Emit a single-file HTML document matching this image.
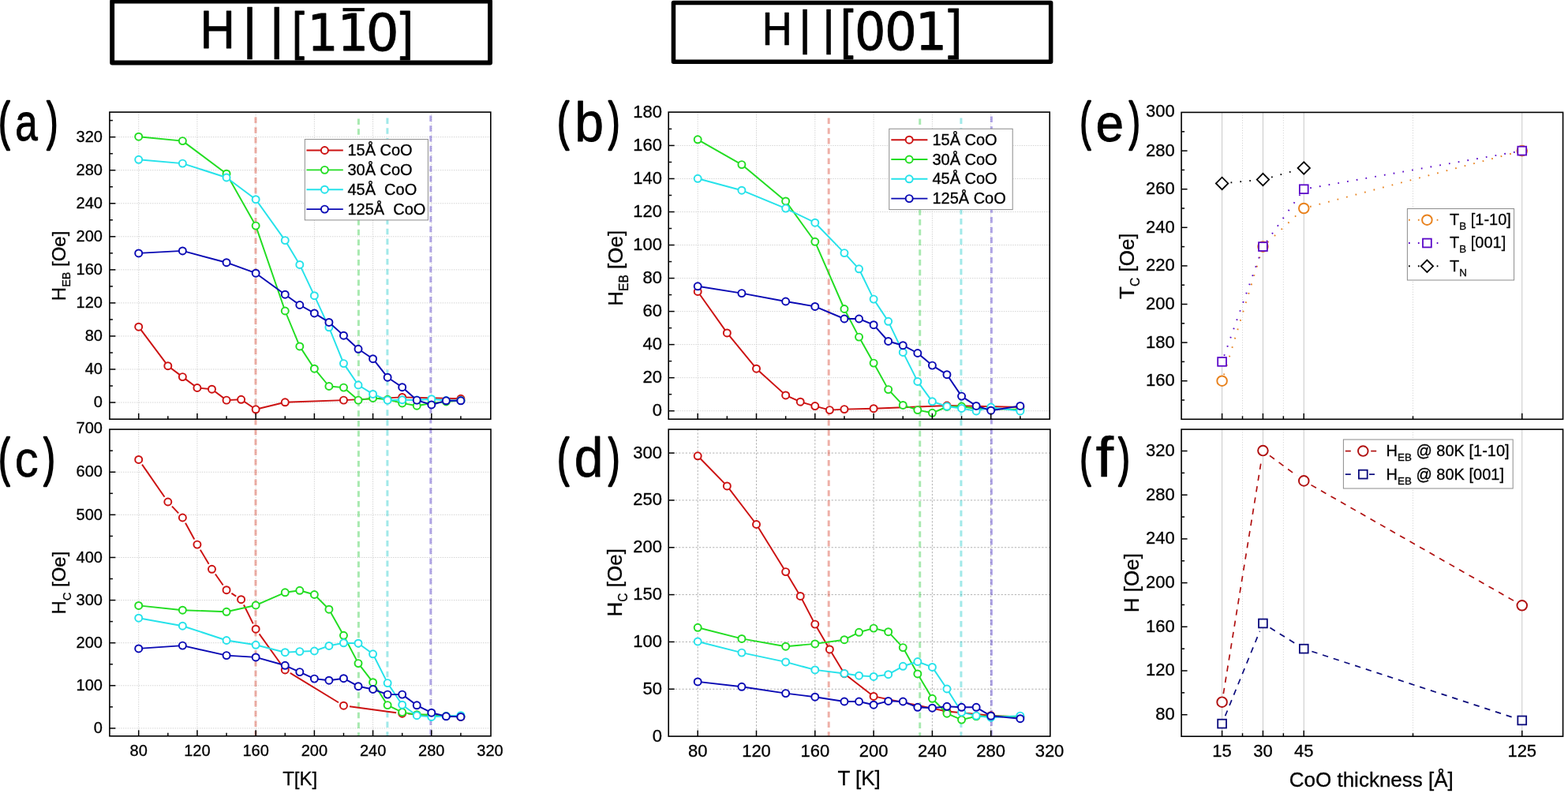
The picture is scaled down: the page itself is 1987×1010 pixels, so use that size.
<!DOCTYPE html>
<html lang="en">
<head>
<meta charset="utf-8">
<title>Exchange bias and coercivity vs temperature and CoO thickness</title>
<style>
html,body{margin:0;padding:0;background:#fff;}
body{width:1987px;height:1010px;overflow:hidden;}
svg{display:block;}
text{fill:#000;stroke:#000;stroke-width:0.3px;}
</style>
</head>
<body>
<svg width="1987" height="1010" viewBox="0 0 1987 1010" font-family="Liberation Sans, sans-serif">
<g>
<rect width="1987" height="1010" fill="#fff"/>
<rect x="142.15" y="1.45" width="478.9" height="78" fill="#fff" stroke="#000" stroke-width="5.9" stroke-linejoin="round"/>
<rect x="853.45" y="3.55" width="478.2" height="74.8" fill="#fff" stroke="#000" stroke-width="5.5" stroke-linejoin="round"/>
<g aria-label="H||[1 1-bar 0]"><text transform="translate(253.57 61.1) scale(0.8869 1)" font-size="69.19" style="stroke-width:0.8px" stroke-linejoin="round" font-family="Liberation Sans, sans-serif">H</text>
<text transform="translate(307.13 60.1) scale(1.0259 1)" font-size="69.8" style="stroke-width:0.6px" stroke-linejoin="round" font-family="Liberation Sans, sans-serif">|</text>
<text transform="translate(341.43 60.1) scale(1.0259 1)" font-size="69.8" style="stroke-width:0.6px" stroke-linejoin="round" font-family="Liberation Sans, sans-serif">|</text>
<text transform="translate(370.12 62.35) scale(0.8436 1)" font-size="67.31" style="stroke-width:0.9px" stroke-linejoin="round" font-family="Liberation Sans, sans-serif">[</text>
<text transform="translate(389.41 63.65) scale(0.9547 1)" font-size="64.2" style="stroke-width:0.9px" stroke-linejoin="round" font-family="DejaVu Sans, Liberation Sans, sans-serif">1</text>
<text transform="translate(428.01 63.65) scale(0.9547 1)" font-size="64.2" style="stroke-width:0.9px" stroke-linejoin="round" font-family="DejaVu Sans, Liberation Sans, sans-serif">1</text>
<text transform="translate(434.98 72.97) scale(0.5787 1)" font-size="82.61" style="stroke-width:0.4px" stroke-linejoin="round" font-family="Liberation Sans, sans-serif">¯</text>
<text transform="translate(463.82 63.55) scale(1.0258 1)" font-size="64.02" style="stroke-width:0.9px" stroke-linejoin="round" font-family="DejaVu Sans, Liberation Sans, sans-serif">0</text>
<text transform="translate(506.86 62.35) scale(0.9108 1)" font-size="67.31" style="stroke-width:0.9px" stroke-linejoin="round" font-family="Liberation Sans, sans-serif">]</text></g>
<g aria-label="H||[001]"><text transform="translate(965.84 57.25) scale(0.8934 1)" font-size="58.87" style="stroke-width:0.7px" stroke-linejoin="round" font-family="Liberation Sans, sans-serif">H</text>
<text transform="translate(1012.22 56.34) scale(1.0050 1)" font-size="60.19" style="stroke-width:0.6px" stroke-linejoin="round" font-family="Liberation Sans, sans-serif">|</text>
<text transform="translate(1042.22 56.34) scale(1.0050 1)" font-size="60.19" style="stroke-width:0.6px" stroke-linejoin="round" font-family="Liberation Sans, sans-serif">|</text>
<text transform="translate(1064.94 61.28) scale(0.8768 1)" font-size="67.63" style="stroke-width:0.9px" stroke-linejoin="round" font-family="Liberation Sans, sans-serif">[</text>
<text transform="translate(1083.06 63.42) scale(0.9323 1)" font-size="66.4" style="stroke-width:0.9px" stroke-linejoin="round" font-family="DejaVu Sans, Liberation Sans, sans-serif">0</text>
<text transform="translate(1120.91 63.42) scale(0.9681 1)" font-size="66.4" style="stroke-width:0.9px" stroke-linejoin="round" font-family="DejaVu Sans, Liberation Sans, sans-serif">0</text>
<text transform="translate(1160.03 63.05) scale(0.9514 1)" font-size="66.12" style="stroke-width:0.9px" stroke-linejoin="round" font-family="DejaVu Sans, Liberation Sans, sans-serif">1</text>
<text transform="translate(1201.13 61.28) scale(0.9585 1)" font-size="67.63" style="stroke-width:0.9px" stroke-linejoin="round" font-family="Liberation Sans, sans-serif">]</text></g>
<!--A-->
<!--C-->
<!--B-->
<!--D-->
<!--E-->
<!--F-->
</g>
<g>
<line x1="138.9" y1="510.04" x2="621.8" y2="510.04" stroke="#d2d2d2" stroke-width="1" stroke-dasharray="1.4 1.45"/>
<line x1="138.9" y1="467.99" x2="621.8" y2="467.99" stroke="#d2d2d2" stroke-width="1" stroke-dasharray="1.4 1.45"/>
<line x1="138.9" y1="425.94" x2="621.8" y2="425.94" stroke="#d2d2d2" stroke-width="1" stroke-dasharray="1.4 1.45"/>
<line x1="138.9" y1="383.9" x2="621.8" y2="383.9" stroke="#d2d2d2" stroke-width="1" stroke-dasharray="1.4 1.45"/>
<line x1="138.9" y1="341.85" x2="621.8" y2="341.85" stroke="#d2d2d2" stroke-width="1" stroke-dasharray="1.4 1.45"/>
<line x1="138.9" y1="299.8" x2="621.8" y2="299.8" stroke="#d2d2d2" stroke-width="1" stroke-dasharray="1.4 1.45"/>
<line x1="138.9" y1="257.75" x2="621.8" y2="257.75" stroke="#d2d2d2" stroke-width="1" stroke-dasharray="1.4 1.45"/>
<line x1="138.9" y1="215.7" x2="621.8" y2="215.7" stroke="#d2d2d2" stroke-width="1" stroke-dasharray="1.4 1.45"/>
<line x1="138.9" y1="173.66" x2="621.8" y2="173.66" stroke="#d2d2d2" stroke-width="1" stroke-dasharray="1.4 1.45"/>
<line x1="175.7" y1="142.1" x2="175.7" y2="531.2" stroke="#d2d2d2" stroke-width="1" stroke-dasharray="1.4 1.45"/>
<line x1="249.92" y1="142.1" x2="249.92" y2="531.2" stroke="#d2d2d2" stroke-width="1" stroke-dasharray="1.4 1.45"/>
<line x1="324.14" y1="142.1" x2="324.14" y2="531.2" stroke="#d2d2d2" stroke-width="1" stroke-dasharray="1.4 1.45"/>
<line x1="398.36" y1="142.1" x2="398.36" y2="531.2" stroke="#d2d2d2" stroke-width="1" stroke-dasharray="1.4 1.45"/>
<line x1="472.58" y1="142.1" x2="472.58" y2="531.2" stroke="#d2d2d2" stroke-width="1" stroke-dasharray="1.4 1.45"/>
<line x1="546.8" y1="142.1" x2="546.8" y2="531.2" stroke="#d2d2d2" stroke-width="1" stroke-dasharray="1.4 1.45"/>
<line x1="138.9" y1="922.9" x2="622" y2="922.9" stroke="#d2d2d2" stroke-width="1" stroke-dasharray="1.4 1.45"/>
<line x1="138.9" y1="868.79" x2="622" y2="868.79" stroke="#d2d2d2" stroke-width="1" stroke-dasharray="1.4 1.45"/>
<line x1="138.9" y1="814.68" x2="622" y2="814.68" stroke="#d2d2d2" stroke-width="1" stroke-dasharray="1.4 1.45"/>
<line x1="138.9" y1="760.57" x2="622" y2="760.57" stroke="#d2d2d2" stroke-width="1" stroke-dasharray="1.4 1.45"/>
<line x1="138.9" y1="706.46" x2="622" y2="706.46" stroke="#d2d2d2" stroke-width="1" stroke-dasharray="1.4 1.45"/>
<line x1="138.9" y1="652.35" x2="622" y2="652.35" stroke="#d2d2d2" stroke-width="1" stroke-dasharray="1.4 1.45"/>
<line x1="138.9" y1="598.24" x2="622" y2="598.24" stroke="#d2d2d2" stroke-width="1" stroke-dasharray="1.4 1.45"/>
<line x1="175.7" y1="544.1" x2="175.7" y2="932.8" stroke="#d2d2d2" stroke-width="1" stroke-dasharray="1.4 1.45"/>
<line x1="249.92" y1="544.1" x2="249.92" y2="932.8" stroke="#d2d2d2" stroke-width="1" stroke-dasharray="1.4 1.45"/>
<line x1="324.14" y1="544.1" x2="324.14" y2="932.8" stroke="#d2d2d2" stroke-width="1" stroke-dasharray="1.4 1.45"/>
<line x1="398.36" y1="544.1" x2="398.36" y2="932.8" stroke="#d2d2d2" stroke-width="1" stroke-dasharray="1.4 1.45"/>
<line x1="472.58" y1="544.1" x2="472.58" y2="932.8" stroke="#d2d2d2" stroke-width="1" stroke-dasharray="1.4 1.45"/>
<line x1="546.8" y1="544.1" x2="546.8" y2="932.8" stroke="#d2d2d2" stroke-width="1" stroke-dasharray="1.4 1.45"/>
<line x1="847.2" y1="520.7" x2="1330.2" y2="520.7" stroke="#d2d2d2" stroke-width="1" stroke-dasharray="1.4 1.45"/>
<line x1="847.2" y1="478.67" x2="1330.2" y2="478.67" stroke="#d2d2d2" stroke-width="1" stroke-dasharray="1.4 1.45"/>
<line x1="847.2" y1="436.63" x2="1330.2" y2="436.63" stroke="#d2d2d2" stroke-width="1" stroke-dasharray="1.4 1.45"/>
<line x1="847.2" y1="394.6" x2="1330.2" y2="394.6" stroke="#d2d2d2" stroke-width="1" stroke-dasharray="1.4 1.45"/>
<line x1="847.2" y1="352.56" x2="1330.2" y2="352.56" stroke="#d2d2d2" stroke-width="1" stroke-dasharray="1.4 1.45"/>
<line x1="847.2" y1="310.53" x2="1330.2" y2="310.53" stroke="#d2d2d2" stroke-width="1" stroke-dasharray="1.4 1.45"/>
<line x1="847.2" y1="268.5" x2="1330.2" y2="268.5" stroke="#d2d2d2" stroke-width="1" stroke-dasharray="1.4 1.45"/>
<line x1="847.2" y1="226.46" x2="1330.2" y2="226.46" stroke="#d2d2d2" stroke-width="1" stroke-dasharray="1.4 1.45"/>
<line x1="847.2" y1="184.43" x2="1330.2" y2="184.43" stroke="#d2d2d2" stroke-width="1" stroke-dasharray="1.4 1.45"/>
<line x1="884.2" y1="142.1" x2="884.2" y2="531.2" stroke="#d2d2d2" stroke-width="1" stroke-dasharray="1.4 1.45"/>
<line x1="958.5" y1="142.1" x2="958.5" y2="531.2" stroke="#d2d2d2" stroke-width="1" stroke-dasharray="1.4 1.45"/>
<line x1="1032.8" y1="142.1" x2="1032.8" y2="531.2" stroke="#d2d2d2" stroke-width="1" stroke-dasharray="1.4 1.45"/>
<line x1="1107.1" y1="142.1" x2="1107.1" y2="531.2" stroke="#d2d2d2" stroke-width="1" stroke-dasharray="1.4 1.45"/>
<line x1="1181.4" y1="142.1" x2="1181.4" y2="531.2" stroke="#d2d2d2" stroke-width="1" stroke-dasharray="1.4 1.45"/>
<line x1="1255.7" y1="142.1" x2="1255.7" y2="531.2" stroke="#d2d2d2" stroke-width="1" stroke-dasharray="1.4 1.45"/>
<line x1="847.2" y1="873.26" x2="1330.8" y2="873.26" stroke="#b0b0b0" stroke-width="1" stroke-dasharray="2.3 2.0"/>
<line x1="847.2" y1="813.43" x2="1330.8" y2="813.43" stroke="#b0b0b0" stroke-width="1" stroke-dasharray="2.3 2.0"/>
<line x1="847.2" y1="753.6" x2="1330.8" y2="753.6" stroke="#b0b0b0" stroke-width="1" stroke-dasharray="2.3 2.0"/>
<line x1="847.2" y1="693.76" x2="1330.8" y2="693.76" stroke="#b0b0b0" stroke-width="1" stroke-dasharray="2.3 2.0"/>
<line x1="847.2" y1="633.92" x2="1330.8" y2="633.92" stroke="#b0b0b0" stroke-width="1" stroke-dasharray="2.3 2.0"/>
<line x1="847.2" y1="574.09" x2="1330.8" y2="574.09" stroke="#b0b0b0" stroke-width="1" stroke-dasharray="2.3 2.0"/>
<line x1="884.2" y1="544.1" x2="884.2" y2="933.1" stroke="#b0b0b0" stroke-width="1" stroke-dasharray="2.3 2.0"/>
<line x1="958.5" y1="544.1" x2="958.5" y2="933.1" stroke="#b0b0b0" stroke-width="1" stroke-dasharray="2.3 2.0"/>
<line x1="1032.8" y1="544.1" x2="1032.8" y2="933.1" stroke="#b0b0b0" stroke-width="1" stroke-dasharray="2.3 2.0"/>
<line x1="1107.1" y1="544.1" x2="1107.1" y2="933.1" stroke="#b0b0b0" stroke-width="1" stroke-dasharray="2.3 2.0"/>
<line x1="1181.4" y1="544.1" x2="1181.4" y2="933.1" stroke="#b0b0b0" stroke-width="1" stroke-dasharray="2.3 2.0"/>
<line x1="1255.7" y1="544.1" x2="1255.7" y2="933.1" stroke="#b0b0b0" stroke-width="1" stroke-dasharray="2.3 2.0"/>
<line x1="1548.6" y1="142.4" x2="1548.6" y2="531.3" stroke="#c8c8c8" stroke-width="1" />
<line x1="1600.44" y1="142.4" x2="1600.44" y2="531.3" stroke="#c8c8c8" stroke-width="1" />
<line x1="1652.28" y1="142.4" x2="1652.28" y2="531.3" stroke="#c8c8c8" stroke-width="1" />
<line x1="1928.76" y1="142.4" x2="1928.76" y2="531.3" stroke="#c8c8c8" stroke-width="1" />
<line x1="1574.52" y1="142.4" x2="1574.52" y2="531.3" stroke="#d4d4d4" stroke-width="1" stroke-dasharray="1.2 2"/>
<line x1="1626.36" y1="142.4" x2="1626.36" y2="531.3" stroke="#d4d4d4" stroke-width="1" stroke-dasharray="1.2 2"/>
<line x1="1790.52" y1="142.4" x2="1790.52" y2="531.3" stroke="#d4d4d4" stroke-width="1" stroke-dasharray="1.2 2"/>
<line x1="1548.6" y1="544.1" x2="1548.6" y2="933.2" stroke="#c8c8c8" stroke-width="1" />
<line x1="1600.44" y1="544.1" x2="1600.44" y2="933.2" stroke="#c8c8c8" stroke-width="1" />
<line x1="1652.28" y1="544.1" x2="1652.28" y2="933.2" stroke="#c8c8c8" stroke-width="1" />
<line x1="1928.76" y1="544.1" x2="1928.76" y2="933.2" stroke="#c8c8c8" stroke-width="1" />
<line x1="1574.52" y1="544.1" x2="1574.52" y2="933.2" stroke="#d4d4d4" stroke-width="1" stroke-dasharray="1.2 2"/>
<line x1="1626.36" y1="544.1" x2="1626.36" y2="933.2" stroke="#d4d4d4" stroke-width="1" stroke-dasharray="1.2 2"/>
<line x1="1790.52" y1="544.1" x2="1790.52" y2="933.2" stroke="#d4d4d4" stroke-width="1" stroke-dasharray="1.2 2"/>
</g>
<g>
<line x1="323.94" y1="148.5" x2="323.94" y2="932.5" stroke="#d9442f" stroke-width="3.0" stroke-dasharray="7.4 5.35" stroke-linecap="butt" opacity="0.42"/>
<line x1="454.4" y1="150.5" x2="454.4" y2="932.5" stroke="#33cc44" stroke-width="3.0" stroke-dasharray="7.4 5.35" stroke-linecap="butt" opacity="0.42"/>
<line x1="490.9" y1="149.5" x2="490.9" y2="932.5" stroke="#22cccc" stroke-width="3.0" stroke-dasharray="7.4 5.35" stroke-linecap="butt" opacity="0.42"/>
<line x1="545.8" y1="146.5" x2="545.8" y2="932.5" stroke="#4a30c8" stroke-width="3.0" stroke-dasharray="7.4 5.35" stroke-linecap="butt" opacity="0.42"/>
<line x1="1050.2" y1="149.5" x2="1050.2" y2="932.5" stroke="#d9442f" stroke-width="3.0" stroke-dasharray="7.4 5.35" stroke-linecap="butt" opacity="0.42"/>
<line x1="1165.7" y1="150.5" x2="1165.7" y2="932.5" stroke="#33cc44" stroke-width="3.0" stroke-dasharray="7.4 5.35" stroke-linecap="butt" opacity="0.42"/>
<line x1="1217.9" y1="149.5" x2="1217.9" y2="932.5" stroke="#22cccc" stroke-width="3.0" stroke-dasharray="7.4 5.35" stroke-linecap="butt" opacity="0.42"/>
<line x1="1256.4" y1="147.5" x2="1256.4" y2="932.5" stroke="#4a30c8" stroke-width="3.0" stroke-dasharray="7.4 5.35" stroke-linecap="butt" opacity="0.42"/>
</g>
<g>
<!--DATA A-->
<polyline points="175.7,414.2 212.81,463.7 231.36,477.6 249.92,491.5 268.47,493.2 287.03,507.1 305.58,506.3 324.14,518.8 361.25,509.8 435.47,507.1 509.69,503.4 583.91,505.3" fill="none" stroke="#cc1212" stroke-width="1.95" stroke-linejoin="round"/>
<circle cx="175.7" cy="414.2" r="4.5" fill="#fff" stroke="#cc1212" stroke-width="1.95"/>
<circle cx="212.81" cy="463.7" r="4.5" fill="#fff" stroke="#cc1212" stroke-width="1.95"/>
<circle cx="231.36" cy="477.6" r="4.5" fill="#fff" stroke="#cc1212" stroke-width="1.95"/>
<circle cx="249.92" cy="491.5" r="4.5" fill="#fff" stroke="#cc1212" stroke-width="1.95"/>
<circle cx="268.47" cy="493.2" r="4.5" fill="#fff" stroke="#cc1212" stroke-width="1.95"/>
<circle cx="287.03" cy="507.1" r="4.5" fill="#fff" stroke="#cc1212" stroke-width="1.95"/>
<circle cx="305.58" cy="506.3" r="4.5" fill="#fff" stroke="#cc1212" stroke-width="1.95"/>
<circle cx="324.14" cy="518.8" r="4.5" fill="#fff" stroke="#cc1212" stroke-width="1.95"/>
<circle cx="361.25" cy="509.8" r="4.5" fill="#fff" stroke="#cc1212" stroke-width="1.95"/>
<circle cx="435.47" cy="507.1" r="4.5" fill="#fff" stroke="#cc1212" stroke-width="1.95"/>
<circle cx="509.69" cy="503.4" r="4.5" fill="#fff" stroke="#cc1212" stroke-width="1.95"/>
<circle cx="583.91" cy="505.3" r="4.5" fill="#fff" stroke="#cc1212" stroke-width="1.95"/>
<polyline points="175.7,173.2 231.36,178.6 287.03,220.2 324.14,286.1 361.25,394 379.8,438.9 398.36,467.2 416.91,489.5 435.47,491.1 454.02,507.1 472.58,504.5 491.13,506.3 509.69,510.9 528.24,514.2 546.8,511 565.36,509 583.91,507.5" fill="none" stroke="#22dd22" stroke-width="1.95" stroke-linejoin="round"/>
<circle cx="175.7" cy="173.2" r="4.5" fill="#fff" stroke="#22dd22" stroke-width="1.95"/>
<circle cx="231.36" cy="178.6" r="4.5" fill="#fff" stroke="#22dd22" stroke-width="1.95"/>
<circle cx="287.03" cy="220.2" r="4.5" fill="#fff" stroke="#22dd22" stroke-width="1.95"/>
<circle cx="324.14" cy="286.1" r="4.5" fill="#fff" stroke="#22dd22" stroke-width="1.95"/>
<circle cx="361.25" cy="394" r="4.5" fill="#fff" stroke="#22dd22" stroke-width="1.95"/>
<circle cx="379.8" cy="438.9" r="4.5" fill="#fff" stroke="#22dd22" stroke-width="1.95"/>
<circle cx="398.36" cy="467.2" r="4.5" fill="#fff" stroke="#22dd22" stroke-width="1.95"/>
<circle cx="416.91" cy="489.5" r="4.5" fill="#fff" stroke="#22dd22" stroke-width="1.95"/>
<circle cx="435.47" cy="491.1" r="4.5" fill="#fff" stroke="#22dd22" stroke-width="1.95"/>
<circle cx="454.02" cy="507.1" r="4.5" fill="#fff" stroke="#22dd22" stroke-width="1.95"/>
<circle cx="472.58" cy="504.5" r="4.5" fill="#fff" stroke="#22dd22" stroke-width="1.95"/>
<circle cx="491.13" cy="506.3" r="4.5" fill="#fff" stroke="#22dd22" stroke-width="1.95"/>
<circle cx="509.69" cy="510.9" r="4.5" fill="#fff" stroke="#22dd22" stroke-width="1.95"/>
<circle cx="528.24" cy="514.2" r="4.5" fill="#fff" stroke="#22dd22" stroke-width="1.95"/>
<circle cx="546.8" cy="511" r="4.5" fill="#fff" stroke="#22dd22" stroke-width="1.95"/>
<circle cx="565.36" cy="509" r="4.5" fill="#fff" stroke="#22dd22" stroke-width="1.95"/>
<circle cx="583.91" cy="507.5" r="4.5" fill="#fff" stroke="#22dd22" stroke-width="1.95"/>
<polyline points="175.7,202.3 231.36,207.1 287.03,225 324.14,252.7 361.25,304.6 379.8,335.4 398.36,374.7 416.91,414.8 435.47,460.6 454.02,488 472.58,499.4 491.13,507.1 509.69,506.7 528.24,507 546.8,505.7 565.36,507.5 583.91,507.5" fill="none" stroke="#26e2ea" stroke-width="1.95" stroke-linejoin="round"/>
<circle cx="175.7" cy="202.3" r="4.5" fill="#fff" stroke="#26e2ea" stroke-width="1.95"/>
<circle cx="231.36" cy="207.1" r="4.5" fill="#fff" stroke="#26e2ea" stroke-width="1.95"/>
<circle cx="287.03" cy="225" r="4.5" fill="#fff" stroke="#26e2ea" stroke-width="1.95"/>
<circle cx="324.14" cy="252.7" r="4.5" fill="#fff" stroke="#26e2ea" stroke-width="1.95"/>
<circle cx="361.25" cy="304.6" r="4.5" fill="#fff" stroke="#26e2ea" stroke-width="1.95"/>
<circle cx="379.8" cy="335.4" r="4.5" fill="#fff" stroke="#26e2ea" stroke-width="1.95"/>
<circle cx="398.36" cy="374.7" r="4.5" fill="#fff" stroke="#26e2ea" stroke-width="1.95"/>
<circle cx="416.91" cy="414.8" r="4.5" fill="#fff" stroke="#26e2ea" stroke-width="1.95"/>
<circle cx="435.47" cy="460.6" r="4.5" fill="#fff" stroke="#26e2ea" stroke-width="1.95"/>
<circle cx="454.02" cy="488" r="4.5" fill="#fff" stroke="#26e2ea" stroke-width="1.95"/>
<circle cx="472.58" cy="499.4" r="4.5" fill="#fff" stroke="#26e2ea" stroke-width="1.95"/>
<circle cx="491.13" cy="507.1" r="4.5" fill="#fff" stroke="#26e2ea" stroke-width="1.95"/>
<circle cx="509.69" cy="506.7" r="4.5" fill="#fff" stroke="#26e2ea" stroke-width="1.95"/>
<circle cx="528.24" cy="507" r="4.5" fill="#fff" stroke="#26e2ea" stroke-width="1.95"/>
<circle cx="546.8" cy="505.7" r="4.5" fill="#fff" stroke="#26e2ea" stroke-width="1.95"/>
<circle cx="565.36" cy="507.5" r="4.5" fill="#fff" stroke="#26e2ea" stroke-width="1.95"/>
<circle cx="583.91" cy="507.5" r="4.5" fill="#fff" stroke="#26e2ea" stroke-width="1.95"/>
<polyline points="175.7,320.9 231.36,317.9 287.03,332.7 324.14,346.2 361.25,373.2 379.8,386.5 398.36,396.9 416.91,408.4 435.47,425.2 454.02,442.3 472.58,454.7 491.13,478.2 509.69,490.7 528.24,507.1 546.8,513 565.36,507.8 583.91,507.8" fill="none" stroke="#0a0ab4" stroke-width="1.95" stroke-linejoin="round"/>
<circle cx="175.7" cy="320.9" r="4.5" fill="#fff" stroke="#0a0ab4" stroke-width="1.95"/>
<circle cx="231.36" cy="317.9" r="4.5" fill="#fff" stroke="#0a0ab4" stroke-width="1.95"/>
<circle cx="287.03" cy="332.7" r="4.5" fill="#fff" stroke="#0a0ab4" stroke-width="1.95"/>
<circle cx="324.14" cy="346.2" r="4.5" fill="#fff" stroke="#0a0ab4" stroke-width="1.95"/>
<circle cx="361.25" cy="373.2" r="4.5" fill="#fff" stroke="#0a0ab4" stroke-width="1.95"/>
<circle cx="379.8" cy="386.5" r="4.5" fill="#fff" stroke="#0a0ab4" stroke-width="1.95"/>
<circle cx="398.36" cy="396.9" r="4.5" fill="#fff" stroke="#0a0ab4" stroke-width="1.95"/>
<circle cx="416.91" cy="408.4" r="4.5" fill="#fff" stroke="#0a0ab4" stroke-width="1.95"/>
<circle cx="435.47" cy="425.2" r="4.5" fill="#fff" stroke="#0a0ab4" stroke-width="1.95"/>
<circle cx="454.02" cy="442.3" r="4.5" fill="#fff" stroke="#0a0ab4" stroke-width="1.95"/>
<circle cx="472.58" cy="454.7" r="4.5" fill="#fff" stroke="#0a0ab4" stroke-width="1.95"/>
<circle cx="491.13" cy="478.2" r="4.5" fill="#fff" stroke="#0a0ab4" stroke-width="1.95"/>
<circle cx="509.69" cy="490.7" r="4.5" fill="#fff" stroke="#0a0ab4" stroke-width="1.95"/>
<circle cx="528.24" cy="507.1" r="4.5" fill="#fff" stroke="#0a0ab4" stroke-width="1.95"/>
<circle cx="546.8" cy="513" r="4.5" fill="#fff" stroke="#0a0ab4" stroke-width="1.95"/>
<circle cx="565.36" cy="507.8" r="4.5" fill="#fff" stroke="#0a0ab4" stroke-width="1.95"/>
<circle cx="583.91" cy="507.8" r="4.5" fill="#fff" stroke="#0a0ab4" stroke-width="1.95"/>
<!--DATA C-->
<line x1="180.03" y1="588.65" x2="208.48" y2="629.75" stroke="#cc1212" stroke-width="1.95" />
<line x1="217.98" y1="641.57" x2="226.2" y2="650.43" stroke="#cc1212" stroke-width="1.95" />
<line x1="235" y1="662.68" x2="246.29" y2="683.42" stroke="#cc1212" stroke-width="1.95" />
<line x1="253.8" y1="696.63" x2="264.59" y2="714.77" stroke="#cc1212" stroke-width="1.95" />
<line x1="272.85" y1="727.52" x2="282.66" y2="741.48" stroke="#cc1212" stroke-width="1.95" />
<line x1="293.41" y1="751.83" x2="299.2" y2="755.57" stroke="#cc1212" stroke-width="1.95" />
<line x1="308.96" y1="766.51" x2="320.77" y2="790.39" stroke="#cc1212" stroke-width="1.95" />
<line x1="328.57" y1="803.37" x2="356.82" y2="842.73" stroke="#cc1212" stroke-width="1.95" />
<line x1="367.74" y1="852.86" x2="428.98" y2="890.24" stroke="#cc1212" stroke-width="1.95" />
<line x1="443" y1="895.21" x2="502.16" y2="903.19" stroke="#cc1212" stroke-width="1.95" />
<line x1="517.28" y1="904.63" x2="576.32" y2="907.97" stroke="#cc1212" stroke-width="1.95" />
<circle cx="175.7" cy="582.4" r="4.5" fill="#fff" stroke="#cc1212" stroke-width="1.95"/>
<circle cx="212.81" cy="636" r="4.5" fill="#fff" stroke="#cc1212" stroke-width="1.95"/>
<circle cx="231.36" cy="656" r="4.5" fill="#fff" stroke="#cc1212" stroke-width="1.95"/>
<circle cx="249.92" cy="690.1" r="4.5" fill="#fff" stroke="#cc1212" stroke-width="1.95"/>
<circle cx="268.47" cy="721.3" r="4.5" fill="#fff" stroke="#cc1212" stroke-width="1.95"/>
<circle cx="287.03" cy="747.7" r="4.5" fill="#fff" stroke="#cc1212" stroke-width="1.95"/>
<circle cx="305.58" cy="759.7" r="4.5" fill="#fff" stroke="#cc1212" stroke-width="1.95"/>
<circle cx="324.14" cy="797.2" r="4.5" fill="#fff" stroke="#cc1212" stroke-width="1.95"/>
<circle cx="361.25" cy="848.9" r="4.5" fill="#fff" stroke="#cc1212" stroke-width="1.95"/>
<circle cx="435.47" cy="894.2" r="4.5" fill="#fff" stroke="#cc1212" stroke-width="1.95"/>
<circle cx="509.69" cy="904.2" r="4.5" fill="#fff" stroke="#cc1212" stroke-width="1.95"/>
<circle cx="583.91" cy="908.4" r="4.5" fill="#fff" stroke="#cc1212" stroke-width="1.95"/>
<polyline points="175.7,767.4 231.36,773.2 287.03,775.3 324.14,767 361.25,750.8 379.8,748.3 398.36,753.5 416.91,772.2 435.47,805.3 454.02,840.6 472.58,864.7 491.13,893.6 509.69,902.6 528.24,905.7 546.8,905.5 565.36,907.5 583.91,908" fill="none" stroke="#22dd22" stroke-width="1.95" stroke-linejoin="round"/>
<circle cx="175.7" cy="767.4" r="4.5" fill="#fff" stroke="#22dd22" stroke-width="1.95"/>
<circle cx="231.36" cy="773.2" r="4.5" fill="#fff" stroke="#22dd22" stroke-width="1.95"/>
<circle cx="287.03" cy="775.3" r="4.5" fill="#fff" stroke="#22dd22" stroke-width="1.95"/>
<circle cx="324.14" cy="767" r="4.5" fill="#fff" stroke="#22dd22" stroke-width="1.95"/>
<circle cx="361.25" cy="750.8" r="4.5" fill="#fff" stroke="#22dd22" stroke-width="1.95"/>
<circle cx="379.8" cy="748.3" r="4.5" fill="#fff" stroke="#22dd22" stroke-width="1.95"/>
<circle cx="398.36" cy="753.5" r="4.5" fill="#fff" stroke="#22dd22" stroke-width="1.95"/>
<circle cx="416.91" cy="772.2" r="4.5" fill="#fff" stroke="#22dd22" stroke-width="1.95"/>
<circle cx="435.47" cy="805.3" r="4.5" fill="#fff" stroke="#22dd22" stroke-width="1.95"/>
<circle cx="454.02" cy="840.6" r="4.5" fill="#fff" stroke="#22dd22" stroke-width="1.95"/>
<circle cx="472.58" cy="864.7" r="4.5" fill="#fff" stroke="#22dd22" stroke-width="1.95"/>
<circle cx="491.13" cy="893.6" r="4.5" fill="#fff" stroke="#22dd22" stroke-width="1.95"/>
<circle cx="509.69" cy="902.6" r="4.5" fill="#fff" stroke="#22dd22" stroke-width="1.95"/>
<circle cx="528.24" cy="905.7" r="4.5" fill="#fff" stroke="#22dd22" stroke-width="1.95"/>
<circle cx="546.8" cy="905.5" r="4.5" fill="#fff" stroke="#22dd22" stroke-width="1.95"/>
<circle cx="565.36" cy="907.5" r="4.5" fill="#fff" stroke="#22dd22" stroke-width="1.95"/>
<circle cx="583.91" cy="908" r="4.5" fill="#fff" stroke="#22dd22" stroke-width="1.95"/>
<polyline points="175.7,783.2 231.36,793.2 287.03,811.5 324.14,817.3 361.25,826.7 379.8,825.6 398.36,825 416.91,818.4 435.47,814.8 454.02,815.2 472.58,828.8 491.13,865.6 509.69,893.2 528.24,906.7 546.8,908.4 565.36,907.5 583.91,906.7" fill="none" stroke="#26e2ea" stroke-width="1.95" stroke-linejoin="round"/>
<circle cx="175.7" cy="783.2" r="4.5" fill="#fff" stroke="#26e2ea" stroke-width="1.95"/>
<circle cx="231.36" cy="793.2" r="4.5" fill="#fff" stroke="#26e2ea" stroke-width="1.95"/>
<circle cx="287.03" cy="811.5" r="4.5" fill="#fff" stroke="#26e2ea" stroke-width="1.95"/>
<circle cx="324.14" cy="817.3" r="4.5" fill="#fff" stroke="#26e2ea" stroke-width="1.95"/>
<circle cx="361.25" cy="826.7" r="4.5" fill="#fff" stroke="#26e2ea" stroke-width="1.95"/>
<circle cx="379.8" cy="825.6" r="4.5" fill="#fff" stroke="#26e2ea" stroke-width="1.95"/>
<circle cx="398.36" cy="825" r="4.5" fill="#fff" stroke="#26e2ea" stroke-width="1.95"/>
<circle cx="416.91" cy="818.4" r="4.5" fill="#fff" stroke="#26e2ea" stroke-width="1.95"/>
<circle cx="435.47" cy="814.8" r="4.5" fill="#fff" stroke="#26e2ea" stroke-width="1.95"/>
<circle cx="454.02" cy="815.2" r="4.5" fill="#fff" stroke="#26e2ea" stroke-width="1.95"/>
<circle cx="472.58" cy="828.8" r="4.5" fill="#fff" stroke="#26e2ea" stroke-width="1.95"/>
<circle cx="491.13" cy="865.6" r="4.5" fill="#fff" stroke="#26e2ea" stroke-width="1.95"/>
<circle cx="509.69" cy="893.2" r="4.5" fill="#fff" stroke="#26e2ea" stroke-width="1.95"/>
<circle cx="528.24" cy="906.7" r="4.5" fill="#fff" stroke="#26e2ea" stroke-width="1.95"/>
<circle cx="546.8" cy="908.4" r="4.5" fill="#fff" stroke="#26e2ea" stroke-width="1.95"/>
<circle cx="565.36" cy="907.5" r="4.5" fill="#fff" stroke="#26e2ea" stroke-width="1.95"/>
<circle cx="583.91" cy="906.7" r="4.5" fill="#fff" stroke="#26e2ea" stroke-width="1.95"/>
<polyline points="175.7,821.9 231.36,818.1 287.03,830.6 324.14,832.9 361.25,843.3 379.8,851.6 398.36,860.1 416.91,862.2 435.47,859.7 454.02,869.7 472.58,873.5 491.13,880.1 509.69,880.1 528.24,893.8 546.8,903.2 565.36,907.8 583.91,908.4" fill="none" stroke="#0a0ab4" stroke-width="1.95" stroke-linejoin="round"/>
<circle cx="175.7" cy="821.9" r="4.5" fill="#fff" stroke="#0a0ab4" stroke-width="1.95"/>
<circle cx="231.36" cy="818.1" r="4.5" fill="#fff" stroke="#0a0ab4" stroke-width="1.95"/>
<circle cx="287.03" cy="830.6" r="4.5" fill="#fff" stroke="#0a0ab4" stroke-width="1.95"/>
<circle cx="324.14" cy="832.9" r="4.5" fill="#fff" stroke="#0a0ab4" stroke-width="1.95"/>
<circle cx="361.25" cy="843.3" r="4.5" fill="#fff" stroke="#0a0ab4" stroke-width="1.95"/>
<circle cx="379.8" cy="851.6" r="4.5" fill="#fff" stroke="#0a0ab4" stroke-width="1.95"/>
<circle cx="398.36" cy="860.1" r="4.5" fill="#fff" stroke="#0a0ab4" stroke-width="1.95"/>
<circle cx="416.91" cy="862.2" r="4.5" fill="#fff" stroke="#0a0ab4" stroke-width="1.95"/>
<circle cx="435.47" cy="859.7" r="4.5" fill="#fff" stroke="#0a0ab4" stroke-width="1.95"/>
<circle cx="454.02" cy="869.7" r="4.5" fill="#fff" stroke="#0a0ab4" stroke-width="1.95"/>
<circle cx="472.58" cy="873.5" r="4.5" fill="#fff" stroke="#0a0ab4" stroke-width="1.95"/>
<circle cx="491.13" cy="880.1" r="4.5" fill="#fff" stroke="#0a0ab4" stroke-width="1.95"/>
<circle cx="509.69" cy="880.1" r="4.5" fill="#fff" stroke="#0a0ab4" stroke-width="1.95"/>
<circle cx="528.24" cy="893.8" r="4.5" fill="#fff" stroke="#0a0ab4" stroke-width="1.95"/>
<circle cx="546.8" cy="903.2" r="4.5" fill="#fff" stroke="#0a0ab4" stroke-width="1.95"/>
<circle cx="565.36" cy="907.8" r="4.5" fill="#fff" stroke="#0a0ab4" stroke-width="1.95"/>
<circle cx="583.91" cy="908.4" r="4.5" fill="#fff" stroke="#0a0ab4" stroke-width="1.95"/>
<!--DATA B-->
<polyline points="884.2,369.5 921.35,421.9 958.5,467.2 995.65,500.9 1014.23,509.2 1032.8,514.6 1051.38,519.6 1069.95,518.6 1107.1,517.7 1199.97,514 1292.85,516" fill="none" stroke="#cc1212" stroke-width="1.95" stroke-linejoin="round"/>
<circle cx="884.2" cy="369.5" r="4.5" fill="#fff" stroke="#cc1212" stroke-width="1.95"/>
<circle cx="921.35" cy="421.9" r="4.5" fill="#fff" stroke="#cc1212" stroke-width="1.95"/>
<circle cx="958.5" cy="467.2" r="4.5" fill="#fff" stroke="#cc1212" stroke-width="1.95"/>
<circle cx="995.65" cy="500.9" r="4.5" fill="#fff" stroke="#cc1212" stroke-width="1.95"/>
<circle cx="1014.23" cy="509.2" r="4.5" fill="#fff" stroke="#cc1212" stroke-width="1.95"/>
<circle cx="1032.8" cy="514.6" r="4.5" fill="#fff" stroke="#cc1212" stroke-width="1.95"/>
<circle cx="1051.38" cy="519.6" r="4.5" fill="#fff" stroke="#cc1212" stroke-width="1.95"/>
<circle cx="1069.95" cy="518.6" r="4.5" fill="#fff" stroke="#cc1212" stroke-width="1.95"/>
<circle cx="1107.1" cy="517.7" r="4.5" fill="#fff" stroke="#cc1212" stroke-width="1.95"/>
<circle cx="1199.97" cy="514" r="4.5" fill="#fff" stroke="#cc1212" stroke-width="1.95"/>
<circle cx="1292.85" cy="516" r="4.5" fill="#fff" stroke="#cc1212" stroke-width="1.95"/>
<polyline points="884.2,176.8 939.93,208.6 995.65,254.9 1032.8,306.3 1069.95,391.5 1088.53,427.1 1107.1,460.1 1125.67,493.6 1144.25,513.4 1162.83,519.6 1181.4,523.3 1199.97,515.5 1218.55,515 1237.12,518 1255.7,518 1292.85,519" fill="none" stroke="#22dd22" stroke-width="1.95" stroke-linejoin="round"/>
<circle cx="884.2" cy="176.8" r="4.5" fill="#fff" stroke="#22dd22" stroke-width="1.95"/>
<circle cx="939.93" cy="208.6" r="4.5" fill="#fff" stroke="#22dd22" stroke-width="1.95"/>
<circle cx="995.65" cy="254.9" r="4.5" fill="#fff" stroke="#22dd22" stroke-width="1.95"/>
<circle cx="1032.8" cy="306.3" r="4.5" fill="#fff" stroke="#22dd22" stroke-width="1.95"/>
<circle cx="1069.95" cy="391.5" r="4.5" fill="#fff" stroke="#22dd22" stroke-width="1.95"/>
<circle cx="1088.53" cy="427.1" r="4.5" fill="#fff" stroke="#22dd22" stroke-width="1.95"/>
<circle cx="1107.1" cy="460.1" r="4.5" fill="#fff" stroke="#22dd22" stroke-width="1.95"/>
<circle cx="1125.67" cy="493.6" r="4.5" fill="#fff" stroke="#22dd22" stroke-width="1.95"/>
<circle cx="1144.25" cy="513.4" r="4.5" fill="#fff" stroke="#22dd22" stroke-width="1.95"/>
<circle cx="1162.83" cy="519.6" r="4.5" fill="#fff" stroke="#22dd22" stroke-width="1.95"/>
<circle cx="1181.4" cy="523.3" r="4.5" fill="#fff" stroke="#22dd22" stroke-width="1.95"/>
<circle cx="1199.97" cy="515.5" r="4.5" fill="#fff" stroke="#22dd22" stroke-width="1.95"/>
<circle cx="1218.55" cy="515" r="4.5" fill="#fff" stroke="#22dd22" stroke-width="1.95"/>
<circle cx="1237.12" cy="518" r="4.5" fill="#fff" stroke="#22dd22" stroke-width="1.95"/>
<circle cx="1255.7" cy="518" r="4.5" fill="#fff" stroke="#22dd22" stroke-width="1.95"/>
<circle cx="1292.85" cy="519" r="4.5" fill="#fff" stroke="#22dd22" stroke-width="1.95"/>
<polyline points="884.2,226.3 939.93,241.2 995.65,264.1 1032.8,282.2 1069.95,320.6 1088.53,340.8 1107.1,379.1 1125.67,407.3 1144.25,446.4 1162.83,483.4 1181.4,508.8 1199.97,515 1218.55,517.5 1237.12,520.9 1255.7,516.1 1292.85,520.9" fill="none" stroke="#26e2ea" stroke-width="1.95" stroke-linejoin="round"/>
<circle cx="884.2" cy="226.3" r="4.5" fill="#fff" stroke="#26e2ea" stroke-width="1.95"/>
<circle cx="939.93" cy="241.2" r="4.5" fill="#fff" stroke="#26e2ea" stroke-width="1.95"/>
<circle cx="995.65" cy="264.1" r="4.5" fill="#fff" stroke="#26e2ea" stroke-width="1.95"/>
<circle cx="1032.8" cy="282.2" r="4.5" fill="#fff" stroke="#26e2ea" stroke-width="1.95"/>
<circle cx="1069.95" cy="320.6" r="4.5" fill="#fff" stroke="#26e2ea" stroke-width="1.95"/>
<circle cx="1088.53" cy="340.8" r="4.5" fill="#fff" stroke="#26e2ea" stroke-width="1.95"/>
<circle cx="1107.1" cy="379.1" r="4.5" fill="#fff" stroke="#26e2ea" stroke-width="1.95"/>
<circle cx="1125.67" cy="407.3" r="4.5" fill="#fff" stroke="#26e2ea" stroke-width="1.95"/>
<circle cx="1144.25" cy="446.4" r="4.5" fill="#fff" stroke="#26e2ea" stroke-width="1.95"/>
<circle cx="1162.83" cy="483.4" r="4.5" fill="#fff" stroke="#26e2ea" stroke-width="1.95"/>
<circle cx="1181.4" cy="508.8" r="4.5" fill="#fff" stroke="#26e2ea" stroke-width="1.95"/>
<circle cx="1199.97" cy="515" r="4.5" fill="#fff" stroke="#26e2ea" stroke-width="1.95"/>
<circle cx="1218.55" cy="517.5" r="4.5" fill="#fff" stroke="#26e2ea" stroke-width="1.95"/>
<circle cx="1237.12" cy="520.9" r="4.5" fill="#fff" stroke="#26e2ea" stroke-width="1.95"/>
<circle cx="1255.7" cy="516.1" r="4.5" fill="#fff" stroke="#26e2ea" stroke-width="1.95"/>
<circle cx="1292.85" cy="520.9" r="4.5" fill="#fff" stroke="#26e2ea" stroke-width="1.95"/>
<polyline points="884.2,362.8 939.93,371.6 995.65,382 1032.8,388.4 1069.95,404 1088.53,404 1107.1,411.7 1125.67,432.5 1144.25,437.7 1162.83,447.5 1181.4,463.1 1199.97,474.7 1218.55,502.1 1237.12,514.4 1255.7,520.2 1292.85,514.4" fill="none" stroke="#0a0ab4" stroke-width="1.95" stroke-linejoin="round"/>
<circle cx="884.2" cy="362.8" r="4.5" fill="#fff" stroke="#0a0ab4" stroke-width="1.95"/>
<circle cx="939.93" cy="371.6" r="4.5" fill="#fff" stroke="#0a0ab4" stroke-width="1.95"/>
<circle cx="995.65" cy="382" r="4.5" fill="#fff" stroke="#0a0ab4" stroke-width="1.95"/>
<circle cx="1032.8" cy="388.4" r="4.5" fill="#fff" stroke="#0a0ab4" stroke-width="1.95"/>
<circle cx="1069.95" cy="404" r="4.5" fill="#fff" stroke="#0a0ab4" stroke-width="1.95"/>
<circle cx="1088.53" cy="404" r="4.5" fill="#fff" stroke="#0a0ab4" stroke-width="1.95"/>
<circle cx="1107.1" cy="411.7" r="4.5" fill="#fff" stroke="#0a0ab4" stroke-width="1.95"/>
<circle cx="1125.67" cy="432.5" r="4.5" fill="#fff" stroke="#0a0ab4" stroke-width="1.95"/>
<circle cx="1144.25" cy="437.7" r="4.5" fill="#fff" stroke="#0a0ab4" stroke-width="1.95"/>
<circle cx="1162.83" cy="447.5" r="4.5" fill="#fff" stroke="#0a0ab4" stroke-width="1.95"/>
<circle cx="1181.4" cy="463.1" r="4.5" fill="#fff" stroke="#0a0ab4" stroke-width="1.95"/>
<circle cx="1199.97" cy="474.7" r="4.5" fill="#fff" stroke="#0a0ab4" stroke-width="1.95"/>
<circle cx="1218.55" cy="502.1" r="4.5" fill="#fff" stroke="#0a0ab4" stroke-width="1.95"/>
<circle cx="1237.12" cy="514.4" r="4.5" fill="#fff" stroke="#0a0ab4" stroke-width="1.95"/>
<circle cx="1255.7" cy="520.2" r="4.5" fill="#fff" stroke="#0a0ab4" stroke-width="1.95"/>
<circle cx="1292.85" cy="514.4" r="4.5" fill="#fff" stroke="#0a0ab4" stroke-width="1.95"/>
<!--DATA D-->
<polyline points="884.2,577.8 921.35,615.9 958.5,664.5 995.65,724.6 1014.23,755.4 1032.8,791.1 1051.38,822.9 1069.95,853.7 1107.1,882.4 1199.97,901.5 1255.7,906.7 1292.85,908.8" fill="none" stroke="#cc1212" stroke-width="1.95" stroke-linejoin="round"/>
<circle cx="884.2" cy="577.8" r="4.5" fill="#fff" stroke="#cc1212" stroke-width="1.95"/>
<circle cx="921.35" cy="615.9" r="4.5" fill="#fff" stroke="#cc1212" stroke-width="1.95"/>
<circle cx="958.5" cy="664.5" r="4.5" fill="#fff" stroke="#cc1212" stroke-width="1.95"/>
<circle cx="995.65" cy="724.6" r="4.5" fill="#fff" stroke="#cc1212" stroke-width="1.95"/>
<circle cx="1014.23" cy="755.4" r="4.5" fill="#fff" stroke="#cc1212" stroke-width="1.95"/>
<circle cx="1032.8" cy="791.1" r="4.5" fill="#fff" stroke="#cc1212" stroke-width="1.95"/>
<circle cx="1051.38" cy="822.9" r="4.5" fill="#fff" stroke="#cc1212" stroke-width="1.95"/>
<circle cx="1069.95" cy="853.7" r="4.5" fill="#fff" stroke="#cc1212" stroke-width="1.95"/>
<circle cx="1107.1" cy="882.4" r="4.5" fill="#fff" stroke="#cc1212" stroke-width="1.95"/>
<circle cx="1199.97" cy="901.5" r="4.5" fill="#fff" stroke="#cc1212" stroke-width="1.95"/>
<circle cx="1255.7" cy="906.7" r="4.5" fill="#fff" stroke="#cc1212" stroke-width="1.95"/>
<circle cx="1292.85" cy="908.8" r="4.5" fill="#fff" stroke="#cc1212" stroke-width="1.95"/>
<polyline points="884.2,795.3 939.93,809.4 995.65,819.2 1032.8,815.9 1069.95,810.7 1088.53,801.3 1107.1,796.1 1125.67,800.7 1144.25,820.6 1162.83,853.9 1181.4,885.3 1199.97,904.2 1218.55,912.1 1237.12,907.8 1255.7,907.5 1292.85,908" fill="none" stroke="#22dd22" stroke-width="1.95" stroke-linejoin="round"/>
<circle cx="884.2" cy="795.3" r="4.5" fill="#fff" stroke="#22dd22" stroke-width="1.95"/>
<circle cx="939.93" cy="809.4" r="4.5" fill="#fff" stroke="#22dd22" stroke-width="1.95"/>
<circle cx="995.65" cy="819.2" r="4.5" fill="#fff" stroke="#22dd22" stroke-width="1.95"/>
<circle cx="1032.8" cy="815.9" r="4.5" fill="#fff" stroke="#22dd22" stroke-width="1.95"/>
<circle cx="1069.95" cy="810.7" r="4.5" fill="#fff" stroke="#22dd22" stroke-width="1.95"/>
<circle cx="1088.53" cy="801.3" r="4.5" fill="#fff" stroke="#22dd22" stroke-width="1.95"/>
<circle cx="1107.1" cy="796.1" r="4.5" fill="#fff" stroke="#22dd22" stroke-width="1.95"/>
<circle cx="1125.67" cy="800.7" r="4.5" fill="#fff" stroke="#22dd22" stroke-width="1.95"/>
<circle cx="1144.25" cy="820.6" r="4.5" fill="#fff" stroke="#22dd22" stroke-width="1.95"/>
<circle cx="1162.83" cy="853.9" r="4.5" fill="#fff" stroke="#22dd22" stroke-width="1.95"/>
<circle cx="1181.4" cy="885.3" r="4.5" fill="#fff" stroke="#22dd22" stroke-width="1.95"/>
<circle cx="1199.97" cy="904.2" r="4.5" fill="#fff" stroke="#22dd22" stroke-width="1.95"/>
<circle cx="1218.55" cy="912.1" r="4.5" fill="#fff" stroke="#22dd22" stroke-width="1.95"/>
<circle cx="1237.12" cy="907.8" r="4.5" fill="#fff" stroke="#22dd22" stroke-width="1.95"/>
<circle cx="1255.7" cy="907.5" r="4.5" fill="#fff" stroke="#22dd22" stroke-width="1.95"/>
<circle cx="1292.85" cy="908" r="4.5" fill="#fff" stroke="#22dd22" stroke-width="1.95"/>
<polyline points="884.2,813 939.93,827.1 995.65,838.9 1032.8,848.9 1069.95,853.5 1088.53,856.2 1107.1,857.4 1125.67,854.7 1144.25,844.3 1162.83,838.5 1181.4,845.4 1199.97,873 1218.55,902.6 1237.12,907.1 1255.7,909.2 1292.85,907.1" fill="none" stroke="#26e2ea" stroke-width="1.95" stroke-linejoin="round"/>
<circle cx="884.2" cy="813" r="4.5" fill="#fff" stroke="#26e2ea" stroke-width="1.95"/>
<circle cx="939.93" cy="827.1" r="4.5" fill="#fff" stroke="#26e2ea" stroke-width="1.95"/>
<circle cx="995.65" cy="838.9" r="4.5" fill="#fff" stroke="#26e2ea" stroke-width="1.95"/>
<circle cx="1032.8" cy="848.9" r="4.5" fill="#fff" stroke="#26e2ea" stroke-width="1.95"/>
<circle cx="1069.95" cy="853.5" r="4.5" fill="#fff" stroke="#26e2ea" stroke-width="1.95"/>
<circle cx="1088.53" cy="856.2" r="4.5" fill="#fff" stroke="#26e2ea" stroke-width="1.95"/>
<circle cx="1107.1" cy="857.4" r="4.5" fill="#fff" stroke="#26e2ea" stroke-width="1.95"/>
<circle cx="1125.67" cy="854.7" r="4.5" fill="#fff" stroke="#26e2ea" stroke-width="1.95"/>
<circle cx="1144.25" cy="844.3" r="4.5" fill="#fff" stroke="#26e2ea" stroke-width="1.95"/>
<circle cx="1162.83" cy="838.5" r="4.5" fill="#fff" stroke="#26e2ea" stroke-width="1.95"/>
<circle cx="1181.4" cy="845.4" r="4.5" fill="#fff" stroke="#26e2ea" stroke-width="1.95"/>
<circle cx="1199.97" cy="873" r="4.5" fill="#fff" stroke="#26e2ea" stroke-width="1.95"/>
<circle cx="1218.55" cy="902.6" r="4.5" fill="#fff" stroke="#26e2ea" stroke-width="1.95"/>
<circle cx="1237.12" cy="907.1" r="4.5" fill="#fff" stroke="#26e2ea" stroke-width="1.95"/>
<circle cx="1255.7" cy="909.2" r="4.5" fill="#fff" stroke="#26e2ea" stroke-width="1.95"/>
<circle cx="1292.85" cy="907.1" r="4.5" fill="#fff" stroke="#26e2ea" stroke-width="1.95"/>
<polyline points="884.2,863.9 939.93,870.3 995.65,878.6 1032.8,883.2 1069.95,889 1088.53,889 1107.1,893.2 1125.67,888.4 1144.25,889 1162.83,896.3 1181.4,897.2 1199.97,895.3 1218.55,896.3 1237.12,896.3 1255.7,907.3 1292.85,910.7" fill="none" stroke="#0a0ab4" stroke-width="1.95" stroke-linejoin="round"/>
<circle cx="884.2" cy="863.9" r="4.5" fill="#fff" stroke="#0a0ab4" stroke-width="1.95"/>
<circle cx="939.93" cy="870.3" r="4.5" fill="#fff" stroke="#0a0ab4" stroke-width="1.95"/>
<circle cx="995.65" cy="878.6" r="4.5" fill="#fff" stroke="#0a0ab4" stroke-width="1.95"/>
<circle cx="1032.8" cy="883.2" r="4.5" fill="#fff" stroke="#0a0ab4" stroke-width="1.95"/>
<circle cx="1069.95" cy="889" r="4.5" fill="#fff" stroke="#0a0ab4" stroke-width="1.95"/>
<circle cx="1088.53" cy="889" r="4.5" fill="#fff" stroke="#0a0ab4" stroke-width="1.95"/>
<circle cx="1107.1" cy="893.2" r="4.5" fill="#fff" stroke="#0a0ab4" stroke-width="1.95"/>
<circle cx="1125.67" cy="888.4" r="4.5" fill="#fff" stroke="#0a0ab4" stroke-width="1.95"/>
<circle cx="1144.25" cy="889" r="4.5" fill="#fff" stroke="#0a0ab4" stroke-width="1.95"/>
<circle cx="1162.83" cy="896.3" r="4.5" fill="#fff" stroke="#0a0ab4" stroke-width="1.95"/>
<circle cx="1181.4" cy="897.2" r="4.5" fill="#fff" stroke="#0a0ab4" stroke-width="1.95"/>
<circle cx="1199.97" cy="895.3" r="4.5" fill="#fff" stroke="#0a0ab4" stroke-width="1.95"/>
<circle cx="1218.55" cy="896.3" r="4.5" fill="#fff" stroke="#0a0ab4" stroke-width="1.95"/>
<circle cx="1237.12" cy="896.3" r="4.5" fill="#fff" stroke="#0a0ab4" stroke-width="1.95"/>
<circle cx="1255.7" cy="907.3" r="4.5" fill="#fff" stroke="#0a0ab4" stroke-width="1.95"/>
<circle cx="1292.85" cy="910.7" r="4.5" fill="#fff" stroke="#0a0ab4" stroke-width="1.95"/>
<!--DATA E-->
<line x1="1550.93" y1="475.05" x2="1598.11" y2="320.25" stroke="#e8821e" stroke-width="1.9" stroke-dasharray="1.7 10.2"/>
<line x1="1606.28" y1="307.13" x2="1646.44" y2="269.47" stroke="#e8821e" stroke-width="1.9" stroke-dasharray="1.7 10.2"/>
<line x1="1660.02" y1="261.96" x2="1921.02" y2="193.14" stroke="#e8821e" stroke-width="1.9" stroke-dasharray="1.7 10.2"/>
<circle cx="1548.6" cy="482.7" r="6.3" fill="#fff" stroke="#e8821e" stroke-width="1.95"/>
<circle cx="1600.44" cy="312.6" r="6.3" fill="#fff" stroke="#e8821e" stroke-width="1.95"/>
<circle cx="1652.28" cy="264" r="6.3" fill="#fff" stroke="#e8821e" stroke-width="1.95"/>
<circle cx="1928.76" cy="191.1" r="6.3" fill="#fff" stroke="#e8821e" stroke-width="1.95"/>
<line x1="1551.28" y1="450.86" x2="1597.76" y2="320.14" stroke="#5a08c8" stroke-width="1.9" stroke-dasharray="1.7 10.2"/>
<line x1="1605.08" y1="306.08" x2="1647.64" y2="246.22" stroke="#5a08c8" stroke-width="1.9" stroke-dasharray="1.7 10.2"/>
<line x1="1660.16" y1="238.31" x2="1920.88" y2="192.49" stroke="#5a08c8" stroke-width="1.9" stroke-dasharray="1.7 10.2"/>
<rect x="1543.2" y="453" width="10.8" height="10.8" fill="#fff" stroke="#5a08c8" stroke-width="1.8"/>
<rect x="1595.04" y="307.2" width="10.8" height="10.8" fill="#fff" stroke="#5a08c8" stroke-width="1.8"/>
<rect x="1646.88" y="234.3" width="10.8" height="10.8" fill="#fff" stroke="#5a08c8" stroke-width="1.8"/>
<rect x="1923.36" y="185.7" width="10.8" height="10.8" fill="#fff" stroke="#5a08c8" stroke-width="1.8"/>
<line x1="1559.55" y1="231.38" x2="1589.49" y2="228.58" stroke="#000" stroke-width="1.9" stroke-dasharray="1.7 10.2"/>
<line x1="1611.03" y1="224.57" x2="1641.69" y2="215.95" stroke="#000" stroke-width="1.9" stroke-dasharray="1.7 10.2"/>
<path d="M1540.9 232.41 L1548.6 224.71 L1556.3 232.41 L1548.6 240.11Z" fill="#fff" stroke="#000" stroke-width="1.8"/>
<path d="M1592.74 227.55 L1600.44 219.85 L1608.14 227.55 L1600.44 235.25Z" fill="#fff" stroke="#000" stroke-width="1.8"/>
<path d="M1644.58 212.97 L1652.28 205.27 L1659.98 212.97 L1652.28 220.67Z" fill="#fff" stroke="#000" stroke-width="1.8"/>
<!--DATA F-->
<line x1="1550.3" y1="879.22" x2="1598.74" y2="581.54" stroke="#b01010" stroke-width="1.7" stroke-dasharray="7.4 7"/>
<line x1="1608.97" y1="577.38" x2="1643.75" y2="603.08" stroke="#b01010" stroke-width="1.7" stroke-dasharray="7.4 7"/>
<line x1="1661.48" y1="614.63" x2="1919.56" y2="762.03" stroke="#b01010" stroke-width="1.7" stroke-dasharray="7.4 7"/>
<circle cx="1548.6" cy="889.69" r="6.3" fill="#fff" stroke="#b01010" stroke-width="1.95"/>
<circle cx="1600.44" cy="571.08" r="6.3" fill="#fff" stroke="#b01010" stroke-width="1.95"/>
<circle cx="1652.28" cy="609.38" r="6.3" fill="#fff" stroke="#b01010" stroke-width="1.95"/>
<circle cx="1928.76" cy="767.29" r="6.3" fill="#fff" stroke="#b01010" stroke-width="1.95"/>
<line x1="1552.6" y1="907.3" x2="1596.44" y2="799.8" stroke="#0a0a7c" stroke-width="1.7" stroke-dasharray="7.4 7"/>
<line x1="1609.45" y1="795.57" x2="1643.27" y2="816.56" stroke="#0a0a7c" stroke-width="1.7" stroke-dasharray="7.4 7"/>
<line x1="1662.35" y1="825.46" x2="1918.69" y2="909.63" stroke="#0a0a7c" stroke-width="1.7" stroke-dasharray="7.4 7"/>
<rect x="1543.2" y="911.72" width="10.8" height="10.8" fill="#fff" stroke="#0a0a7c" stroke-width="1.8"/>
<rect x="1595.04" y="784.58" width="10.8" height="10.8" fill="#fff" stroke="#0a0a7c" stroke-width="1.8"/>
<rect x="1646.88" y="816.75" width="10.8" height="10.8" fill="#fff" stroke="#0a0a7c" stroke-width="1.8"/>
<rect x="1923.36" y="907.54" width="10.8" height="10.8" fill="#fff" stroke="#0a0a7c" stroke-width="1.8"/>
</g>
<g>
<line x1="138.9" y1="489.02" x2="142.9" y2="489.02" stroke="#000" stroke-width="1.5" />
<line x1="138.9" y1="446.97" x2="142.9" y2="446.97" stroke="#000" stroke-width="1.5" />
<line x1="138.9" y1="404.92" x2="142.9" y2="404.92" stroke="#000" stroke-width="1.5" />
<line x1="138.9" y1="362.87" x2="142.9" y2="362.87" stroke="#000" stroke-width="1.5" />
<line x1="138.9" y1="320.82" x2="142.9" y2="320.82" stroke="#000" stroke-width="1.5" />
<line x1="138.9" y1="278.78" x2="142.9" y2="278.78" stroke="#000" stroke-width="1.5" />
<line x1="138.9" y1="236.73" x2="142.9" y2="236.73" stroke="#000" stroke-width="1.5" />
<line x1="138.9" y1="194.68" x2="142.9" y2="194.68" stroke="#000" stroke-width="1.5" />
<line x1="138.9" y1="152.63" x2="142.9" y2="152.63" stroke="#000" stroke-width="1.5" />
<line x1="138.9" y1="510.04" x2="146.4" y2="510.04" stroke="#000" stroke-width="1.5" />
<line x1="138.9" y1="467.99" x2="146.4" y2="467.99" stroke="#000" stroke-width="1.5" />
<line x1="138.9" y1="425.94" x2="146.4" y2="425.94" stroke="#000" stroke-width="1.5" />
<line x1="138.9" y1="383.9" x2="146.4" y2="383.9" stroke="#000" stroke-width="1.5" />
<line x1="138.9" y1="341.85" x2="146.4" y2="341.85" stroke="#000" stroke-width="1.5" />
<line x1="138.9" y1="299.8" x2="146.4" y2="299.8" stroke="#000" stroke-width="1.5" />
<line x1="138.9" y1="257.75" x2="146.4" y2="257.75" stroke="#000" stroke-width="1.5" />
<line x1="138.9" y1="215.7" x2="146.4" y2="215.7" stroke="#000" stroke-width="1.5" />
<line x1="138.9" y1="173.66" x2="146.4" y2="173.66" stroke="#000" stroke-width="1.5" />
<line x1="212.81" y1="531.2" x2="212.81" y2="527.2" stroke="#000" stroke-width="1.5" />
<line x1="287.03" y1="531.2" x2="287.03" y2="527.2" stroke="#000" stroke-width="1.5" />
<line x1="361.25" y1="531.2" x2="361.25" y2="527.2" stroke="#000" stroke-width="1.5" />
<line x1="435.47" y1="531.2" x2="435.47" y2="527.2" stroke="#000" stroke-width="1.5" />
<line x1="509.69" y1="531.2" x2="509.69" y2="527.2" stroke="#000" stroke-width="1.5" />
<line x1="583.91" y1="531.2" x2="583.91" y2="527.2" stroke="#000" stroke-width="1.5" />
<line x1="175.7" y1="531.2" x2="175.7" y2="523.7" stroke="#000" stroke-width="1.5" />
<line x1="249.92" y1="531.2" x2="249.92" y2="523.7" stroke="#000" stroke-width="1.5" />
<line x1="324.14" y1="531.2" x2="324.14" y2="523.7" stroke="#000" stroke-width="1.5" />
<line x1="398.36" y1="531.2" x2="398.36" y2="523.7" stroke="#000" stroke-width="1.5" />
<line x1="472.58" y1="531.2" x2="472.58" y2="523.7" stroke="#000" stroke-width="1.5" />
<line x1="546.8" y1="531.2" x2="546.8" y2="523.7" stroke="#000" stroke-width="1.5" />
<line x1="138.9" y1="895.85" x2="142.9" y2="895.85" stroke="#000" stroke-width="1.5" />
<line x1="138.9" y1="841.74" x2="142.9" y2="841.74" stroke="#000" stroke-width="1.5" />
<line x1="138.9" y1="787.62" x2="142.9" y2="787.62" stroke="#000" stroke-width="1.5" />
<line x1="138.9" y1="733.51" x2="142.9" y2="733.51" stroke="#000" stroke-width="1.5" />
<line x1="138.9" y1="679.4" x2="142.9" y2="679.4" stroke="#000" stroke-width="1.5" />
<line x1="138.9" y1="625.29" x2="142.9" y2="625.29" stroke="#000" stroke-width="1.5" />
<line x1="138.9" y1="571.18" x2="142.9" y2="571.18" stroke="#000" stroke-width="1.5" />
<line x1="138.9" y1="922.9" x2="146.4" y2="922.9" stroke="#000" stroke-width="1.5" />
<line x1="138.9" y1="868.79" x2="146.4" y2="868.79" stroke="#000" stroke-width="1.5" />
<line x1="138.9" y1="814.68" x2="146.4" y2="814.68" stroke="#000" stroke-width="1.5" />
<line x1="138.9" y1="760.57" x2="146.4" y2="760.57" stroke="#000" stroke-width="1.5" />
<line x1="138.9" y1="706.46" x2="146.4" y2="706.46" stroke="#000" stroke-width="1.5" />
<line x1="138.9" y1="652.35" x2="146.4" y2="652.35" stroke="#000" stroke-width="1.5" />
<line x1="138.9" y1="598.24" x2="146.4" y2="598.24" stroke="#000" stroke-width="1.5" />
<line x1="212.81" y1="932.8" x2="212.81" y2="928.8" stroke="#000" stroke-width="1.5" />
<line x1="287.03" y1="932.8" x2="287.03" y2="928.8" stroke="#000" stroke-width="1.5" />
<line x1="361.25" y1="932.8" x2="361.25" y2="928.8" stroke="#000" stroke-width="1.5" />
<line x1="435.47" y1="932.8" x2="435.47" y2="928.8" stroke="#000" stroke-width="1.5" />
<line x1="509.69" y1="932.8" x2="509.69" y2="928.8" stroke="#000" stroke-width="1.5" />
<line x1="583.91" y1="932.8" x2="583.91" y2="928.8" stroke="#000" stroke-width="1.5" />
<line x1="175.7" y1="932.8" x2="175.7" y2="925.3" stroke="#000" stroke-width="1.5" />
<line x1="249.92" y1="932.8" x2="249.92" y2="925.3" stroke="#000" stroke-width="1.5" />
<line x1="324.14" y1="932.8" x2="324.14" y2="925.3" stroke="#000" stroke-width="1.5" />
<line x1="398.36" y1="932.8" x2="398.36" y2="925.3" stroke="#000" stroke-width="1.5" />
<line x1="472.58" y1="932.8" x2="472.58" y2="925.3" stroke="#000" stroke-width="1.5" />
<line x1="546.8" y1="932.8" x2="546.8" y2="925.3" stroke="#000" stroke-width="1.5" />
<line x1="847.2" y1="499.68" x2="851.2" y2="499.68" stroke="#000" stroke-width="1.5" />
<line x1="847.2" y1="457.65" x2="851.2" y2="457.65" stroke="#000" stroke-width="1.5" />
<line x1="847.2" y1="415.62" x2="851.2" y2="415.62" stroke="#000" stroke-width="1.5" />
<line x1="847.2" y1="373.58" x2="851.2" y2="373.58" stroke="#000" stroke-width="1.5" />
<line x1="847.2" y1="331.55" x2="851.2" y2="331.55" stroke="#000" stroke-width="1.5" />
<line x1="847.2" y1="289.51" x2="851.2" y2="289.51" stroke="#000" stroke-width="1.5" />
<line x1="847.2" y1="247.48" x2="851.2" y2="247.48" stroke="#000" stroke-width="1.5" />
<line x1="847.2" y1="205.45" x2="851.2" y2="205.45" stroke="#000" stroke-width="1.5" />
<line x1="847.2" y1="163.41" x2="851.2" y2="163.41" stroke="#000" stroke-width="1.5" />
<line x1="847.2" y1="520.7" x2="854.7" y2="520.7" stroke="#000" stroke-width="1.5" />
<line x1="847.2" y1="478.67" x2="854.7" y2="478.67" stroke="#000" stroke-width="1.5" />
<line x1="847.2" y1="436.63" x2="854.7" y2="436.63" stroke="#000" stroke-width="1.5" />
<line x1="847.2" y1="394.6" x2="854.7" y2="394.6" stroke="#000" stroke-width="1.5" />
<line x1="847.2" y1="352.56" x2="854.7" y2="352.56" stroke="#000" stroke-width="1.5" />
<line x1="847.2" y1="310.53" x2="854.7" y2="310.53" stroke="#000" stroke-width="1.5" />
<line x1="847.2" y1="268.5" x2="854.7" y2="268.5" stroke="#000" stroke-width="1.5" />
<line x1="847.2" y1="226.46" x2="854.7" y2="226.46" stroke="#000" stroke-width="1.5" />
<line x1="847.2" y1="184.43" x2="854.7" y2="184.43" stroke="#000" stroke-width="1.5" />
<line x1="921.35" y1="531.2" x2="921.35" y2="527.2" stroke="#000" stroke-width="1.5" />
<line x1="995.65" y1="531.2" x2="995.65" y2="527.2" stroke="#000" stroke-width="1.5" />
<line x1="1069.95" y1="531.2" x2="1069.95" y2="527.2" stroke="#000" stroke-width="1.5" />
<line x1="1144.25" y1="531.2" x2="1144.25" y2="527.2" stroke="#000" stroke-width="1.5" />
<line x1="1218.55" y1="531.2" x2="1218.55" y2="527.2" stroke="#000" stroke-width="1.5" />
<line x1="1292.85" y1="531.2" x2="1292.85" y2="527.2" stroke="#000" stroke-width="1.5" />
<line x1="884.2" y1="531.2" x2="884.2" y2="523.7" stroke="#000" stroke-width="1.5" />
<line x1="958.5" y1="531.2" x2="958.5" y2="523.7" stroke="#000" stroke-width="1.5" />
<line x1="1032.8" y1="531.2" x2="1032.8" y2="523.7" stroke="#000" stroke-width="1.5" />
<line x1="1107.1" y1="531.2" x2="1107.1" y2="523.7" stroke="#000" stroke-width="1.5" />
<line x1="1181.4" y1="531.2" x2="1181.4" y2="523.7" stroke="#000" stroke-width="1.5" />
<line x1="1255.7" y1="531.2" x2="1255.7" y2="523.7" stroke="#000" stroke-width="1.5" />
<line x1="847.2" y1="873.26" x2="854.7" y2="873.26" stroke="#000" stroke-width="1.5" />
<line x1="847.2" y1="813.43" x2="854.7" y2="813.43" stroke="#000" stroke-width="1.5" />
<line x1="847.2" y1="753.6" x2="854.7" y2="753.6" stroke="#000" stroke-width="1.5" />
<line x1="847.2" y1="693.76" x2="854.7" y2="693.76" stroke="#000" stroke-width="1.5" />
<line x1="847.2" y1="633.92" x2="854.7" y2="633.92" stroke="#000" stroke-width="1.5" />
<line x1="847.2" y1="574.09" x2="854.7" y2="574.09" stroke="#000" stroke-width="1.5" />
<line x1="884.2" y1="933.1" x2="884.2" y2="925.6" stroke="#000" stroke-width="1.5" />
<line x1="958.5" y1="933.1" x2="958.5" y2="925.6" stroke="#000" stroke-width="1.5" />
<line x1="1032.8" y1="933.1" x2="1032.8" y2="925.6" stroke="#000" stroke-width="1.5" />
<line x1="1107.1" y1="933.1" x2="1107.1" y2="925.6" stroke="#000" stroke-width="1.5" />
<line x1="1181.4" y1="933.1" x2="1181.4" y2="925.6" stroke="#000" stroke-width="1.5" />
<line x1="1255.7" y1="933.1" x2="1255.7" y2="925.6" stroke="#000" stroke-width="1.5" />
<line x1="1497.1" y1="507" x2="1501.1" y2="507" stroke="#000" stroke-width="1.5" />
<line x1="1497.1" y1="458.4" x2="1501.1" y2="458.4" stroke="#000" stroke-width="1.5" />
<line x1="1497.1" y1="409.8" x2="1501.1" y2="409.8" stroke="#000" stroke-width="1.5" />
<line x1="1497.1" y1="361.2" x2="1501.1" y2="361.2" stroke="#000" stroke-width="1.5" />
<line x1="1497.1" y1="312.6" x2="1501.1" y2="312.6" stroke="#000" stroke-width="1.5" />
<line x1="1497.1" y1="264" x2="1501.1" y2="264" stroke="#000" stroke-width="1.5" />
<line x1="1497.1" y1="215.4" x2="1501.1" y2="215.4" stroke="#000" stroke-width="1.5" />
<line x1="1497.1" y1="166.8" x2="1501.1" y2="166.8" stroke="#000" stroke-width="1.5" />
<line x1="1497.1" y1="482.7" x2="1504.6" y2="482.7" stroke="#000" stroke-width="1.5" />
<line x1="1497.1" y1="434.1" x2="1504.6" y2="434.1" stroke="#000" stroke-width="1.5" />
<line x1="1497.1" y1="385.5" x2="1504.6" y2="385.5" stroke="#000" stroke-width="1.5" />
<line x1="1497.1" y1="336.9" x2="1504.6" y2="336.9" stroke="#000" stroke-width="1.5" />
<line x1="1497.1" y1="288.3" x2="1504.6" y2="288.3" stroke="#000" stroke-width="1.5" />
<line x1="1497.1" y1="239.7" x2="1504.6" y2="239.7" stroke="#000" stroke-width="1.5" />
<line x1="1497.1" y1="191.1" x2="1504.6" y2="191.1" stroke="#000" stroke-width="1.5" />
<line x1="1574.52" y1="531.3" x2="1574.52" y2="527.3" stroke="#000" stroke-width="1.5" />
<line x1="1626.36" y1="531.3" x2="1626.36" y2="527.3" stroke="#000" stroke-width="1.5" />
<line x1="1790.52" y1="531.3" x2="1790.52" y2="527.3" stroke="#000" stroke-width="1.5" />
<line x1="1548.6" y1="531.3" x2="1548.6" y2="523.8" stroke="#000" stroke-width="1.5" />
<line x1="1600.44" y1="531.3" x2="1600.44" y2="523.8" stroke="#000" stroke-width="1.5" />
<line x1="1652.28" y1="531.3" x2="1652.28" y2="523.8" stroke="#000" stroke-width="1.5" />
<line x1="1928.76" y1="531.3" x2="1928.76" y2="523.8" stroke="#000" stroke-width="1.5" />
<line x1="1497.1" y1="877.85" x2="1501.1" y2="877.85" stroke="#000" stroke-width="1.5" />
<line x1="1497.1" y1="822.15" x2="1501.1" y2="822.15" stroke="#000" stroke-width="1.5" />
<line x1="1497.1" y1="766.45" x2="1501.1" y2="766.45" stroke="#000" stroke-width="1.5" />
<line x1="1497.1" y1="710.75" x2="1501.1" y2="710.75" stroke="#000" stroke-width="1.5" />
<line x1="1497.1" y1="655.05" x2="1501.1" y2="655.05" stroke="#000" stroke-width="1.5" />
<line x1="1497.1" y1="599.35" x2="1501.1" y2="599.35" stroke="#000" stroke-width="1.5" />
<line x1="1497.1" y1="905.7" x2="1504.6" y2="905.7" stroke="#000" stroke-width="1.5" />
<line x1="1497.1" y1="850" x2="1504.6" y2="850" stroke="#000" stroke-width="1.5" />
<line x1="1497.1" y1="794.3" x2="1504.6" y2="794.3" stroke="#000" stroke-width="1.5" />
<line x1="1497.1" y1="738.6" x2="1504.6" y2="738.6" stroke="#000" stroke-width="1.5" />
<line x1="1497.1" y1="682.9" x2="1504.6" y2="682.9" stroke="#000" stroke-width="1.5" />
<line x1="1497.1" y1="627.2" x2="1504.6" y2="627.2" stroke="#000" stroke-width="1.5" />
<line x1="1497.1" y1="571.5" x2="1504.6" y2="571.5" stroke="#000" stroke-width="1.5" />
<line x1="1574.52" y1="933.2" x2="1574.52" y2="929.2" stroke="#000" stroke-width="1.5" />
<line x1="1626.36" y1="933.2" x2="1626.36" y2="929.2" stroke="#000" stroke-width="1.5" />
<line x1="1790.52" y1="933.2" x2="1790.52" y2="929.2" stroke="#000" stroke-width="1.5" />
<line x1="1548.6" y1="933.2" x2="1548.6" y2="925.7" stroke="#000" stroke-width="1.5" />
<line x1="1600.44" y1="933.2" x2="1600.44" y2="925.7" stroke="#000" stroke-width="1.5" />
<line x1="1652.28" y1="933.2" x2="1652.28" y2="925.7" stroke="#000" stroke-width="1.5" />
<line x1="1928.76" y1="933.2" x2="1928.76" y2="925.7" stroke="#000" stroke-width="1.5" />
<rect x="138.9" y="142.1" width="482.9" height="389.1" fill="none" stroke="#000" stroke-width="1.6"/>
<rect x="138.9" y="544.1" width="483.1" height="388.7" fill="none" stroke="#000" stroke-width="1.6"/>
<rect x="847.2" y="142.1" width="483" height="389.1" fill="none" stroke="#000" stroke-width="1.6"/>
<rect x="847.2" y="544.1" width="483.6" height="389" fill="none" stroke="#000" stroke-width="1.6"/>
<rect x="1497.1" y="142.4" width="483.5" height="388.9" fill="none" stroke="#000" stroke-width="1.6"/>
<rect x="1497.1" y="544.1" width="483.5" height="389.1" fill="none" stroke="#000" stroke-width="1.6"/>
</g>
<g>
<!--LEGENDS-->
<rect x="386.3" y="176.6" width="156.1" height="102.3" fill="#fff" stroke="#8c8c8c" stroke-width="1"/>
<line x1="388.4" y1="190.5" x2="434.8" y2="190.5" stroke="#cc1212" stroke-width="1.9" />
<circle cx="411.4" cy="190.5" r="4.5" fill="#fff" stroke="#cc1212" stroke-width="1.95"/>
<line x1="388.4" y1="215.37" x2="434.8" y2="215.37" stroke="#22dd22" stroke-width="1.9" />
<circle cx="411.4" cy="215.37" r="4.5" fill="#fff" stroke="#22dd22" stroke-width="1.95"/>
<line x1="388.4" y1="240.24" x2="434.8" y2="240.24" stroke="#26e2ea" stroke-width="1.9" />
<circle cx="411.4" cy="240.24" r="4.5" fill="#fff" stroke="#26e2ea" stroke-width="1.95"/>
<line x1="388.4" y1="265.11" x2="434.8" y2="265.11" stroke="#0a0ab4" stroke-width="1.9" />
<circle cx="411.4" cy="265.11" r="4.5" fill="#fff" stroke="#0a0ab4" stroke-width="1.95"/>
<rect x="1126.8" y="163.3" width="156.4" height="102.3" fill="#fff" stroke="#8c8c8c" stroke-width="1"/>
<line x1="1129.3" y1="177.2" x2="1175.4" y2="177.2" stroke="#cc1212" stroke-width="1.9" />
<circle cx="1152.2" cy="177.2" r="4.5" fill="#fff" stroke="#cc1212" stroke-width="1.95"/>
<line x1="1129.3" y1="202" x2="1175.4" y2="202" stroke="#22dd22" stroke-width="1.9" />
<circle cx="1152.2" cy="202" r="4.5" fill="#fff" stroke="#22dd22" stroke-width="1.95"/>
<line x1="1129.3" y1="226.8" x2="1175.4" y2="226.8" stroke="#26e2ea" stroke-width="1.9" />
<circle cx="1152.2" cy="226.8" r="4.5" fill="#fff" stroke="#26e2ea" stroke-width="1.95"/>
<line x1="1129.3" y1="251.6" x2="1175.4" y2="251.6" stroke="#0a0ab4" stroke-width="1.9" />
<circle cx="1152.2" cy="251.6" r="4.5" fill="#fff" stroke="#0a0ab4" stroke-width="1.95"/>
<rect x="1783.4" y="264.5" width="135.2" height="90.5" fill="#fff" stroke="#8c8c8c" stroke-width="1"/>
<line x1="1785" y1="278.7" x2="1832" y2="278.7" stroke="#e8821e" stroke-width="1.9" stroke-dasharray="1.7 10.2"/>
<circle cx="1808.4" cy="278.7" r="6.3" fill="#fff" stroke="#e8821e" stroke-width="1.95"/>
<line x1="1785" y1="308" x2="1832" y2="308" stroke="#5a08c8" stroke-width="1.9" stroke-dasharray="1.7 10.2"/>
<rect x="1803" y="302.6" width="10.8" height="10.8" fill="#fff" stroke="#5a08c8" stroke-width="1.8"/>
<line x1="1785" y1="337.3" x2="1832" y2="337.3" stroke="#000" stroke-width="1.9" stroke-dasharray="1.7 10.2"/>
<path d="M1800.7 337.3 L1808.4 329.6 L1816.1 337.3 L1808.4 345Z" fill="#fff" stroke="#000" stroke-width="1.8"/>
<rect x="1702.4" y="557" width="214.8" height="62" fill="#fff" stroke="#8c8c8c" stroke-width="1"/>
<line x1="1704.8" y1="571.6" x2="1711.8" y2="571.6" stroke="#b01010" stroke-width="1.7" />
<line x1="1737.2" y1="571.6" x2="1744.2" y2="571.6" stroke="#b01010" stroke-width="1.7" />
<circle cx="1727.3" cy="571.6" r="6.3" fill="#fff" stroke="#b01010" stroke-width="1.95"/>
<line x1="1704.8" y1="601.1" x2="1711.8" y2="601.1" stroke="#0a0a7c" stroke-width="1.7" />
<line x1="1735" y1="601.1" x2="1742" y2="601.1" stroke="#0a0a7c" stroke-width="1.7" />
<rect x="1721.9" y="595.7" width="10.8" height="10.8" fill="#fff" stroke="#0a0a7c" stroke-width="1.8"/>
</g>
<g>
<text x="129.9" y="516.2" font-size="20" text-anchor="end" >0</text>
<text x="129.9" y="474.15" font-size="20" text-anchor="end" >40</text>
<text x="129.9" y="432.1" font-size="20" text-anchor="end" >80</text>
<text x="129.9" y="390.06" font-size="20" text-anchor="end" >120</text>
<text x="129.9" y="348.01" font-size="20" text-anchor="end" >160</text>
<text x="129.9" y="305.96" font-size="20" text-anchor="end" >200</text>
<text x="129.9" y="263.91" font-size="20" text-anchor="end" >240</text>
<text x="129.9" y="221.86" font-size="20" text-anchor="end" >280</text>
<text x="129.9" y="179.82" font-size="20" text-anchor="end" >320</text>
<text x="129.9" y="929.06" font-size="20" text-anchor="end" >0</text>
<text x="129.9" y="874.95" font-size="20" text-anchor="end" >100</text>
<text x="129.9" y="820.84" font-size="20" text-anchor="end" >200</text>
<text x="129.9" y="766.73" font-size="20" text-anchor="end" >300</text>
<text x="129.9" y="712.62" font-size="20" text-anchor="end" >400</text>
<text x="129.9" y="658.51" font-size="20" text-anchor="end" >500</text>
<text x="129.9" y="604.4" font-size="20" text-anchor="end" >600</text>
<text x="129.9" y="549.26" font-size="20" text-anchor="end" >700</text>
<text x="175.7" y="957.5" font-size="20" text-anchor="middle" >80</text>
<text x="249.92" y="957.5" font-size="20" text-anchor="middle" >120</text>
<text x="324.14" y="957.5" font-size="20" text-anchor="middle" >160</text>
<text x="398.36" y="957.5" font-size="20" text-anchor="middle" >200</text>
<text x="472.58" y="957.5" font-size="20" text-anchor="middle" >240</text>
<text x="546.8" y="957.5" font-size="20" text-anchor="middle" >280</text>
<text x="621.02" y="957.5" font-size="20" text-anchor="middle" >320</text>
<text x="838.9" y="527.18" font-size="22" text-anchor="end" >0</text>
<text x="838.9" y="485.14" font-size="22" text-anchor="end" >20</text>
<text x="838.9" y="443.11" font-size="22" text-anchor="end" >40</text>
<text x="838.9" y="401.07" font-size="22" text-anchor="end" >60</text>
<text x="838.9" y="359.04" font-size="22" text-anchor="end" >80</text>
<text x="838.9" y="317.01" font-size="22" text-anchor="end" >100</text>
<text x="838.9" y="274.97" font-size="22" text-anchor="end" >120</text>
<text x="838.9" y="232.94" font-size="22" text-anchor="end" >140</text>
<text x="838.9" y="190.9" font-size="22" text-anchor="end" >160</text>
<text x="838.9" y="148.68" font-size="22" text-anchor="end" >180</text>
<text x="838.9" y="879.74" font-size="22" text-anchor="end" >50</text>
<text x="838.9" y="819.91" font-size="22" text-anchor="end" >100</text>
<text x="838.9" y="760.07" font-size="22" text-anchor="end" >150</text>
<text x="838.9" y="700.24" font-size="22" text-anchor="end" >200</text>
<text x="838.9" y="640.4" font-size="22" text-anchor="end" >250</text>
<text x="838.9" y="580.57" font-size="22" text-anchor="end" >300</text>
<text x="838.9" y="940.18" font-size="22" text-anchor="end" >0</text>
<text x="884.2" y="959" font-size="22" text-anchor="middle" >80</text>
<text x="958.5" y="959" font-size="22" text-anchor="middle" >120</text>
<text x="1032.8" y="959" font-size="22" text-anchor="middle" >160</text>
<text x="1107.1" y="959" font-size="22" text-anchor="middle" >200</text>
<text x="1181.4" y="959" font-size="22" text-anchor="middle" >240</text>
<text x="1255.7" y="959" font-size="22" text-anchor="middle" >280</text>
<text x="1330" y="959" font-size="22" text-anchor="middle" >320</text>
<text x="1488.8" y="489.18" font-size="22" text-anchor="end" >160</text>
<text x="1488.8" y="440.58" font-size="22" text-anchor="end" >180</text>
<text x="1488.8" y="391.98" font-size="22" text-anchor="end" >200</text>
<text x="1488.8" y="343.38" font-size="22" text-anchor="end" >220</text>
<text x="1488.8" y="294.78" font-size="22" text-anchor="end" >240</text>
<text x="1488.8" y="246.18" font-size="22" text-anchor="end" >260</text>
<text x="1488.8" y="197.58" font-size="22" text-anchor="end" >280</text>
<text x="1488.8" y="148.28" font-size="22" text-anchor="end" >300</text>
<text x="1488.8" y="912.18" font-size="22" text-anchor="end" >80</text>
<text x="1488.8" y="856.48" font-size="22" text-anchor="end" >120</text>
<text x="1488.8" y="800.78" font-size="22" text-anchor="end" >160</text>
<text x="1488.8" y="745.08" font-size="22" text-anchor="end" >200</text>
<text x="1488.8" y="689.38" font-size="22" text-anchor="end" >240</text>
<text x="1488.8" y="633.68" font-size="22" text-anchor="end" >280</text>
<text x="1488.8" y="577.98" font-size="22" text-anchor="end" >320</text>
<text x="1548.6" y="959" font-size="22" text-anchor="middle" >15</text>
<text x="1600.44" y="959" font-size="22" text-anchor="middle" >30</text>
<text x="1652.28" y="959" font-size="22" text-anchor="middle" >45</text>
<text x="1928.76" y="959" font-size="22" text-anchor="middle" >125</text>
<text x="440.4" y="197.1" font-size="20" text-anchor="start" >15Å CoO</text>
<text x="440.4" y="221.97" font-size="20" text-anchor="start" >30Å CoO</text>
<text x="440.4" y="246.84" font-size="20" text-anchor="start" >45Å&#160; CoO</text>
<text x="440.4" y="271.71" font-size="20" text-anchor="start" >125Å&#160; CoO</text>
<text x="1181.4" y="183.8" font-size="20" text-anchor="start" >15Å CoO</text>
<text x="1181.4" y="208.6" font-size="20" text-anchor="start" >30Å CoO</text>
<text x="1181.4" y="233.4" font-size="20" text-anchor="start" >45Å CoO</text>
<text x="1181.4" y="258.2" font-size="20" text-anchor="start" >125Å CoO</text>
<text x="1837" y="285.1" font-size="20" text-anchor="start" >T<tspan font-size="13.4" dy="5.8">B</tspan><tspan dy="-5.8"> [1-10]</tspan></text>
<text x="1837" y="314.4" font-size="20" text-anchor="start" >T<tspan font-size="13.4" dy="5.8">B</tspan><tspan dy="-5.8"> [001]</tspan></text>
<text x="1837" y="343.7" font-size="20" text-anchor="start" >T<tspan font-size="13.4" dy="5.8">N</tspan><tspan dy="-5.8"></tspan></text>
<text x="1756.6" y="578.2" font-size="20" text-anchor="start" >H<tspan font-size="13.4" dy="5.8">EB</tspan><tspan dy="-5.8"> @ 80K [1-10]</tspan></text>
<text x="1756.6" y="607.7" font-size="20" text-anchor="start" >H<tspan font-size="13.4" dy="5.8">EB</tspan><tspan dy="-5.8"> @ 80K [001]</tspan></text>
<!--AXT-->
<text x="380.2" y="994.6" font-size="24" text-anchor="middle" >T[K]</text>
<text x="1088.6" y="995.2" font-size="26" text-anchor="middle" >T [K]</text>
<text x="1737.8" y="997.4" font-size="26" text-anchor="middle" >CoO thickness [Å]</text>
<text transform="translate(82.8 336.9) rotate(-90)" font-size="24" text-anchor="middle">H<tspan font-size="14.4" dy="6.48">EB</tspan><tspan dy="-6.48"> [Oe]</tspan></text>
<text transform="translate(83.1 738.5) rotate(-90)" font-size="24" text-anchor="middle">H<tspan font-size="14.4" dy="6.48">C</tspan><tspan dy="-6.48"> [Oe]</tspan></text>
<text transform="translate(789.4 339.8) rotate(-90)" font-size="26" text-anchor="middle">H<tspan font-size="15.6" dy="7.02">EB</tspan><tspan dy="-7.02"> [Oe]</tspan></text>
<text transform="translate(787.9 738.3) rotate(-90)" font-size="26" text-anchor="middle">H<tspan font-size="15.6" dy="7.02">C</tspan><tspan dy="-7.02"> [Oe]</tspan></text>
<text transform="translate(1437.1 337.2) rotate(-90)" font-size="26" text-anchor="middle">T<tspan font-size="15.6" dy="7.02">C</tspan><tspan dy="-7.02"> [Oe]</tspan></text>
<text transform="translate(1443.1 738.7) rotate(-90)" font-size="26" text-anchor="middle">H<tspan dy="0"> [Oe]</tspan></text>
<text transform="translate(-1.87 175.89) scale(0.6446 1)" font-size="66.74" style="stroke-width:2.4px" stroke-linejoin="round" font-family="Liberation Sans, sans-serif">(</text>
<text transform="translate(19.29 178.49) scale(0.7797 1)" font-size="65.88" style="stroke-width:0.9px" stroke-linejoin="round" font-family="Liberation Sans, sans-serif">a</text>
<text transform="translate(59.15 175.89) scale(0.6276 1)" font-size="66.74" style="stroke-width:2.4px" stroke-linejoin="round" font-family="Liberation Sans, sans-serif">)</text>
<text transform="translate(706.32 175.89) scale(0.6729 1)" font-size="66.74" style="stroke-width:2.4px" stroke-linejoin="round" font-family="Liberation Sans, sans-serif">(</text>
<text transform="translate(728.2 178.5) scale(0.9477 1)" font-size="69.8" style="stroke-width:0.8px" stroke-linejoin="round" font-family="Liberation Sans, sans-serif">b</text>
<text transform="translate(771.04 175.89) scale(0.6446 1)" font-size="66.74" style="stroke-width:2.4px" stroke-linejoin="round" font-family="Liberation Sans, sans-serif">)</text>
<text transform="translate(-1.87 601.69) scale(0.6446 1)" font-size="66.74" style="stroke-width:2.4px" stroke-linejoin="round" font-family="Liberation Sans, sans-serif">(</text>
<text transform="translate(18.78 604.04) scale(0.9126 1)" font-size="65.69" style="stroke-width:0.6px" stroke-linejoin="round" font-family="Liberation Sans, sans-serif">c</text>
<text transform="translate(55.14 601.69) scale(0.6502 1)" font-size="66.74" style="stroke-width:2.4px" stroke-linejoin="round" font-family="Liberation Sans, sans-serif">)</text>
<text transform="translate(706.32 601.69) scale(0.6729 1)" font-size="66.74" style="stroke-width:2.4px" stroke-linejoin="round" font-family="Liberation Sans, sans-serif">(</text>
<text transform="translate(727.73 603.9) scale(0.9456 1)" font-size="69.8" style="stroke-width:0.8px" stroke-linejoin="round" font-family="Liberation Sans, sans-serif">d</text>
<text transform="translate(771.04 601.69) scale(0.6446 1)" font-size="66.74" style="stroke-width:2.4px" stroke-linejoin="round" font-family="Liberation Sans, sans-serif">)</text>
<text transform="translate(1368.5 175.89) scale(0.6276 1)" font-size="66.74" style="stroke-width:2.4px" stroke-linejoin="round" font-family="Liberation Sans, sans-serif">(</text>
<text transform="translate(1388.61 178.54) scale(0.9695 1)" font-size="66.06" style="stroke-width:0.8px" stroke-linejoin="round" font-family="Liberation Sans, sans-serif">e</text>
<text transform="translate(1430.65 175.89) scale(0.6276 1)" font-size="66.74" style="stroke-width:2.4px" stroke-linejoin="round" font-family="Liberation Sans, sans-serif">)</text>
<text transform="translate(1368.5 601.69) scale(0.6276 1)" font-size="66.74" style="stroke-width:2.4px" stroke-linejoin="round" font-family="Liberation Sans, sans-serif">(</text>
<text transform="translate(1388.29 604.25) scale(1.1551 1)" font-size="71.55" style="stroke-width:0.3px" stroke-linejoin="round" font-family="Liberation Sans, sans-serif">f</text>
<text transform="translate(1417.14 601.69) scale(0.6502 1)" font-size="66.74" style="stroke-width:2.4px" stroke-linejoin="round" font-family="Liberation Sans, sans-serif">)</text>
</g>
</svg>
</body>
</html>
